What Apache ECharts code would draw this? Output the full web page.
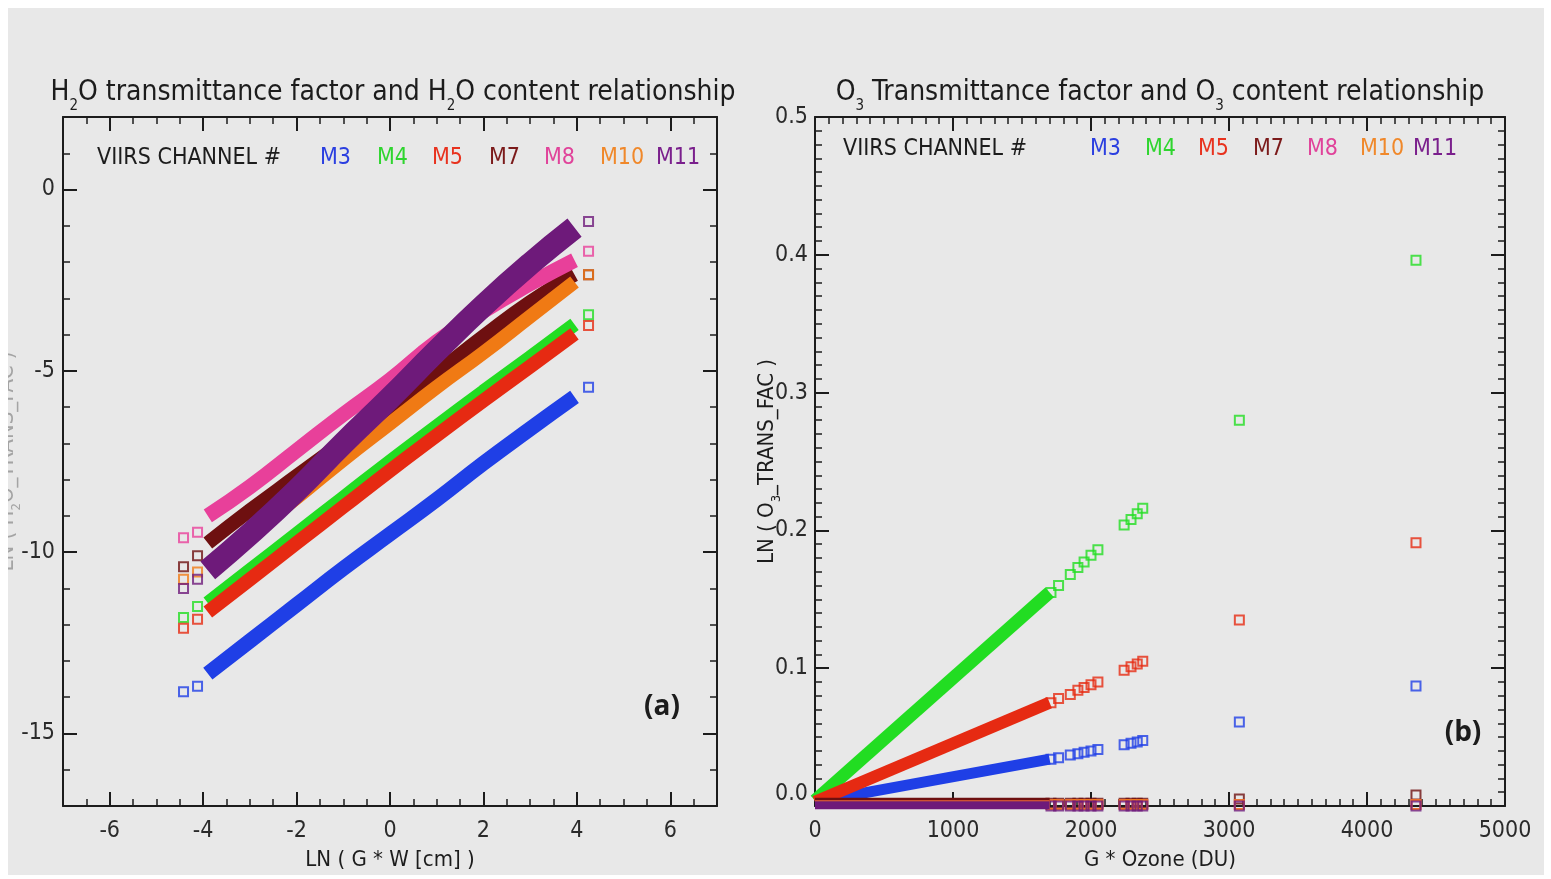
<!DOCTYPE html>
<html>
<head>
<meta charset="utf-8">
<title>VIIRS H2O / O3 transmittance</title>
<script src="https://cdn.jsdelivr.net/npm/echarts@6/dist/echarts.min.js"></script>
<style>
  html, body { margin: 0; padding: 0; background: #fff; }
  #chart { width: 1551px; height: 879px; }
</style>
</head>
<body>
<div id="chart"></div>
<script>
// channel names + colours
const channels = ['M3', 'M4', 'M5', 'M7', 'M8', 'M10', 'M11']
const lineColors = ['#1f3fe6', '#22dd22', '#e62a12', '#6e1010', '#e8409a', '#f07a14', '#6e1a7a']
const textColors = ['#2b3fe0', '#2fd52f', '#e8321e', '#7b1a1a', '#e0439a', '#f0882a', '#7a1f8c']

// (a) H2O panel: dense band read along its centre, plus the loose squares at both ends
const h2oBandX = [-3.9, -3, -2, -1, 0, 1, 2, 3, 3.95]
const h2oM3 = [-13.35, -12.45, -11.45, -10.45, -9.5, -8.55, -7.55, -6.6, -5.72]
const h2oM4 = [-11.4, -10.5, -9.5, -8.5, -7.5, -6.53, -5.57, -4.63, -3.72]
const h2oM5 = [-11.65, -10.75, -9.75, -8.75, -7.75, -6.78, -5.82, -4.88, -3.98]
const h2oM7 = [-9.75, -8.85, -7.9, -6.95, -6.0, -5.05, -4.05, -3.1, -2.35]
const h2oM8 = [-9.0, -8.2, -7.2, -6.2, -5.25, -4.2, -3.35, -2.6, -1.95]
const h2oM10 = [-10.4, -9.5, -8.5, -7.45, -6.45, -5.45, -4.5, -3.5, -2.55]
const h2oM11 = [-10.5, -9.5, -8.3, -7.0, -5.75, -4.45, -3.2, -2.05, -1.05]
const h2oEndX = [-4.42, -4.12, 4.25]
const h2oEndM3 = [-13.85, -13.7, -5.45]
const h2oEndM4 = [-11.8, -11.5, -3.45]
const h2oEndM5 = [-12.1, -11.85, -3.75]
const h2oEndM7 = [-10.4, -10.1, -2.35]
const h2oEndM8 = [-9.6, -9.45, -1.7]
const h2oEndM10 = [-10.75, -10.55, -2.35]
const h2oEndM11 = [-11.0, -10.75, -0.88]
const h2oBandWidth = [15, 14, 14, 14, 15, 14, 23]

// (b) O3 panel: dense band 0..1700 DU, then the separate points
const o3BandX = [0, 1700]
const o3BandM3 = [0.003, 0.034]
const o3BandM4 = [0.004, 0.155]
const o3BandM5 = [0.003, 0.075]
const o3BandM7 = [0.003, 0.003]
const o3BandM8 = [0.001, 0.001]
const o3BandM10 = [0.001, 0.001]
const o3BandM11 = [0.0005, 0.0005]
const o3PtX = [1710, 1765, 1850, 1905, 1950, 2000, 2050, 2240, 2290, 2335, 2375, 3075, 4355]
const o3M3 = [0.034, 0.035, 0.037, 0.038, 0.039, 0.040, 0.041, 0.0445, 0.0455, 0.0465, 0.0475, 0.061, 0.087]
const o3M4 = [0.155, 0.160, 0.168, 0.173, 0.177, 0.182, 0.186, 0.204, 0.208, 0.212, 0.216, 0.280, 0.396]
const o3M5 = [0.075, 0.078, 0.081, 0.084, 0.086, 0.088, 0.090, 0.0985, 0.101, 0.103, 0.105, 0.135, 0.191]
const o3M7 = [0.002, 0.002, 0.002, 0.002, 0.002, 0.002, 0.002, 0.002, 0.002, 0.002, 0.002, 0.005, 0.008]
const o3M8 = [0.001, 0.001, 0.001, 0.001, 0.001, 0.001, 0.001, 0.001, 0.001, 0.001, 0.001, 0.001, 0.001]
const o3M10 = [0.001, 0.001, 0.001, 0.001, 0.001, 0.001, 0.001, 0.001, 0.001, 0.001, 0.001, 0.001, 0.001]
const o3M11 = [0, 0, 0, 0, 0, 0, 0, 0, 0, 0, 0, 0, 0]
const o3BandWidth = [11, 13, 12, 8, 8, 8, 8]

// tick labels
const h2oXTicks = [-6, -4, -2, 0, 2, 4, 6]
const h2oYTicks = [0, -5, -10, -15]

const FONT = "'Liberation Sans Narrow', 'DejaVu Sans Condensed', 'Liberation Sans', sans-serif"
const INK = '#1c1c1c'

const zip = (xs, ys) => xs.map((x, i) => [x, ys[i]])

const h2oBand = [h2oM3, h2oM4, h2oM5, h2oM7, h2oM8, h2oM10, h2oM11]
const h2oEnd = [h2oEndM3, h2oEndM4, h2oEndM5, h2oEndM7, h2oEndM8, h2oEndM10, h2oEndM11]
const o3Band = [o3BandM3, o3BandM4, o3BandM5, o3BandM7, o3BandM8, o3BandM10, o3BandM11]
const o3Pts = [o3M3, o3M4, o3M5, o3M7, o3M8, o3M10, o3M11]

const labelStyle = { color: '#2a2a2a', fontSize: 23, fontFamily: FONT }
const lineOn = { show: true, onZero: false, lineStyle: { color: INK, width: 2 } }
const lineOff = { show: false, onZero: false }
const majorTick = (vals) => ({ show: true, inside: true, length: 14, customValues: vals, lineStyle: { color: INK, width: 2 } })
const minorOnly = { show: true, inside: true, length: 7, lineStyle: { color: INK, width: 1.5 } }
const nameStyle = {
  color: '#1c1c1c', fontSize: 22, fontFamily: FONT,
  rich: {
    n: { fontSize: 22, fontFamily: FONT, color: '#1c1c1c', lineHeight: 26 },
    s: { fontSize: 13, fontFamily: FONT, color: '#1c1c1c', lineHeight: 13, padding: [20, 0, 0, 0] }
  }
}
const greyName = {
  ...nameStyle, color: '#a4a4a4',
  rich: {
    n: { ...nameStyle.rich.n, color: '#a4a4a4' },
    s: { ...nameStyle.rich.s, color: '#a4a4a4' }
  }
}

// left grid: 4 x axes (major/minor on bottom and top), right grid: 2
const xAxis = [
  { gridIndex: 0, type: 'value', position: 'bottom', min: -7, max: 7, axisLine: lineOn, splitLine: { show: false },
    axisTick: majorTick(h2oXTicks), axisLabel: { ...labelStyle, margin: 14, customValues: h2oXTicks },
    name: 'LN ( G * W [cm] )', nameLocation: 'middle', nameGap: 43, nameMoveOverlap: false, nameTextStyle: nameStyle },
  { gridIndex: 0, type: 'value', position: 'bottom', min: -7, max: 7, interval: 0.5, axisLine: lineOff,
    splitLine: { show: false }, axisTick: minorOnly, axisLabel: { show: false } },
  { gridIndex: 0, type: 'value', position: 'top', min: -7, max: 7, axisLine: lineOn, splitLine: { show: false },
    axisTick: majorTick(h2oXTicks), axisLabel: { show: false } },
  { gridIndex: 0, type: 'value', position: 'top', min: -7, max: 7, interval: 0.5, axisLine: lineOff,
    splitLine: { show: false }, axisTick: minorOnly, axisLabel: { show: false } },
  { gridIndex: 1, type: 'value', position: 'bottom', min: 0, max: 5000, interval: 1000, axisLine: lineOn,
    splitLine: { show: false }, axisTick: { show: true, inside: true, length: 14, lineStyle: { color: INK, width: 2 } },
    minorTick: { show: true, splitNumber: 10, length: 7, lineStyle: { color: INK, width: 1.5 } },
    axisLabel: { ...labelStyle, margin: 14, formatter: v => String(v) },
    name: 'G * Ozone (DU)', nameLocation: 'middle', nameGap: 43, nameMoveOverlap: false, nameTextStyle: nameStyle },
  { gridIndex: 1, type: 'value', position: 'top', min: 0, max: 5000, interval: 1000, axisLine: lineOn,
    splitLine: { show: false }, axisTick: { show: true, inside: true, length: 14, lineStyle: { color: INK, width: 2 } },
    minorTick: { show: true, splitNumber: 10, length: 7, lineStyle: { color: INK, width: 1.5 } },
    axisLabel: { show: false } }
]

const yAxis = [
  { gridIndex: 0, type: 'value', position: 'left', min: -17, max: 2, axisLine: lineOn, splitLine: { show: false },
    axisTick: majorTick(h2oYTicks), axisLabel: { ...labelStyle, margin: 8, customValues: h2oYTicks },
    name: '{n|LN ( H}{s|2}{n|O_TRANS_FAC )}', nameLocation: 'middle', nameGap: 43, nameMoveOverlap: false, nameTextStyle: greyName },
  { gridIndex: 0, type: 'value', position: 'left', min: -17, max: 2, interval: 1, axisLine: lineOff,
    splitLine: { show: false }, axisTick: minorOnly, axisLabel: { show: false } },
  { gridIndex: 0, type: 'value', position: 'right', min: -17, max: 2, axisLine: lineOn, splitLine: { show: false },
    axisTick: majorTick(h2oYTicks), axisLabel: { show: false } },
  { gridIndex: 0, type: 'value', position: 'right', min: -17, max: 2, interval: 1, axisLine: lineOff,
    splitLine: { show: false }, axisTick: minorOnly, axisLabel: { show: false } },
  { gridIndex: 1, type: 'value', position: 'left', min: 0, max: 0.5, interval: 0.1, axisLine: lineOn,
    splitLine: { show: false }, axisTick: { show: true, inside: true, length: 14, lineStyle: { color: INK, width: 2 } },
    minorTick: { show: true, splitNumber: 10, length: 7, lineStyle: { color: INK, width: 1.5 } },
    axisLabel: { ...labelStyle, margin: 7, formatter: v => v.toFixed(1), verticalAlignMinLabel: 'bottom' },
    name: '{n|LN ( O}{s|3}{n|_TRANS_FAC )}', nameLocation: 'middle', nameGap: 35, nameMoveOverlap: false, nameTextStyle: nameStyle },
  { gridIndex: 1, type: 'value', position: 'right', min: 0, max: 0.5, interval: 0.1, axisLine: lineOn,
    splitLine: { show: false }, axisTick: { show: true, inside: true, length: 14, lineStyle: { color: INK, width: 2 } },
    minorTick: { show: true, splitNumber: 10, length: 7, lineStyle: { color: INK, width: 1.5 } },
    axisLabel: { show: false } }
]

const hollow = (c) => ({ color: 'rgba(0,0,0,0)', borderColor: c, borderWidth: 2 })

const series = []
channels.forEach((ch, i) => {
  series.push({
    name: ch, type: 'line', xAxisIndex: 0, yAxisIndex: 0, smooth: true, symbol: 'none',
    data: zip(h2oBandX, h2oBand[i]), lineStyle: { color: lineColors[i], width: h2oBandWidth[i] }
  })
  series.push({
    name: ch, type: 'scatter', xAxisIndex: 0, yAxisIndex: 0, symbol: 'rect', symbolSize: 9,
    data: zip(h2oEndX, h2oEnd[i]), itemStyle: hollow(lineColors[i])
  })
})
channels.forEach((ch, i) => {
  series.push({
    name: ch, type: 'line', xAxisIndex: 4, yAxisIndex: 4, symbol: 'none',
    data: zip(o3BandX, o3Band[i]), lineStyle: { color: lineColors[i], width: o3BandWidth[i] }
  })
  series.push({
    name: ch, type: 'scatter', xAxisIndex: 4, yAxisIndex: 4, symbol: 'rect', symbolSize: 9,
    data: zip(o3PtX, o3Pts[i]), itemStyle: hollow(lineColors[i])
  })
})

// titles, in-plot channel key, panel tags
const txt = (x, y, text, extra) => ({
  type: 'text', x, y, silent: true, z: 50,
  style: { text, fontSize: 23, fontFamily: FONT, fill: '#1c1c1c', align: 'left', verticalAlign: 'middle', ...extra }
})
const titleRich = {
  n: { fontSize: 28, fontFamily: FONT, fill: '#1c1c1c', lineHeight: 34 },
  s: { fontSize: 15, fontFamily: FONT, fill: '#1c1c1c', lineHeight: 15, padding: [26, 0, 0, 0] }
}
const keyLeftX = [320, 377, 432, 489, 544, 600, 656]
const keyRightX = [1090, 1145, 1198, 1253, 1307, 1360, 1413]

const graphic = [
  { type: 'text', x: 393, y: 93, silent: true, z: 50,
    style: { text: '{n|H}{s|2}{n|O transmittance factor and H}{s|2}{n|O content relationship}', rich: titleRich, align: 'center', verticalAlign: 'middle' } },
  { type: 'text', x: 1160, y: 93, silent: true, z: 50,
    style: { text: '{n|O}{s|3}{n| Transmittance factor and O}{s|3}{n| content relationship}', rich: titleRich, align: 'center', verticalAlign: 'middle' } },
  txt(97, 158, 'VIIRS CHANNEL #'),
  txt(843, 149, 'VIIRS CHANNEL #'),
  txt(662, 707, '(a)', { fontFamily: "'Open Sans', sans-serif", fontWeight: 'bold', fontSize: 28, align: 'center' }),
  txt(1463, 733, '(b)', { fontFamily: "'Open Sans', sans-serif", fontWeight: 'bold', fontSize: 28, align: 'center' }),
  ...channels.map((ch, i) => txt(keyLeftX[i], 158, ch, { fill: textColors[i] })),
  ...channels.map((ch, i) => txt(keyRightX[i], 149, ch, { fill: textColors[i] })),
  // white frame round the grey picture
  { type: 'rect', shape: { x: 0, y: 0, width: 1551, height: 8 }, style: { fill: '#fff' }, z: 100, silent: true },
  { type: 'rect', shape: { x: 0, y: 0, width: 8, height: 879 }, style: { fill: '#fff' }, z: 100, silent: true },
  { type: 'rect', shape: { x: 0, y: 875, width: 1551, height: 4 }, style: { fill: '#fff' }, z: 100, silent: true },
  { type: 'rect', shape: { x: 1544, y: 0, width: 7, height: 879 }, style: { fill: '#fff' }, z: 100, silent: true }
]

const chart = echarts.init(document.getElementById('chart'))
chart.setOption({
  animation: false,
  backgroundColor: '#e8e8e8',
  grid: [
    { left: 63, top: 117, width: 654, height: 689, outerBoundsMode: 'none' },
    { left: 815, top: 117, width: 690, height: 689, outerBoundsMode: 'none' }
  ],
  xAxis, yAxis, series, graphic
})
</script>
</body>
</html>
